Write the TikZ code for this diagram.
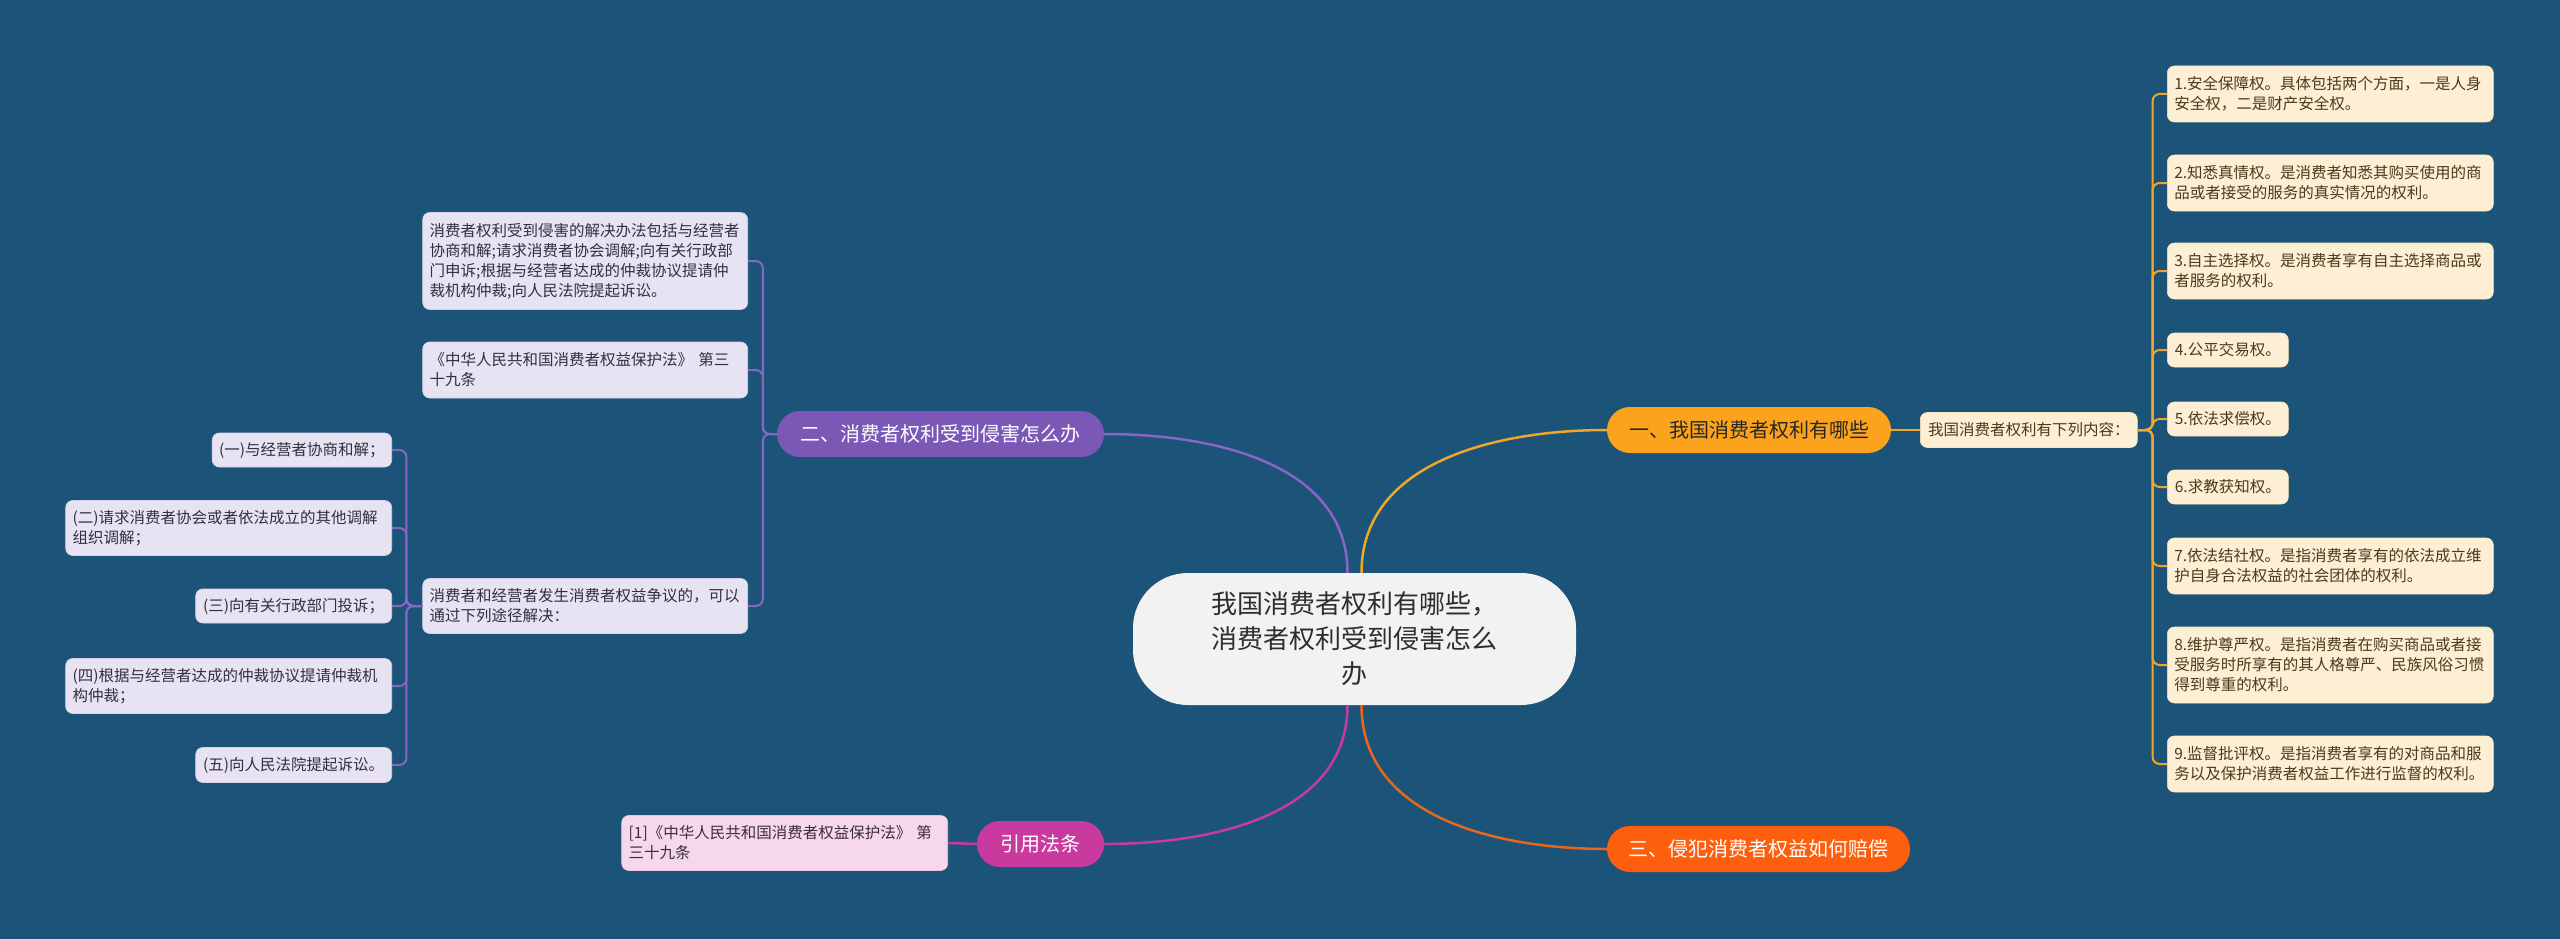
\documentclass[tikz,border=0pt]{standalone}
\usepackage{fontspec}
\setmainfont{Noto Sans CJK SC}
\definecolor{bg}{HTML}{1B5478}
\definecolor{rootfill}{HTML}{F2F2F2}
\definecolor{roottext}{HTML}{2E2E2E}
\definecolor{orangeP}{HTML}{FBA31D}
\definecolor{orangeL}{HTML}{EFA62A}
\definecolor{cream}{HTML}{FDEFD4}
\definecolor{creamtext}{HTML}{4A3A1E}
\definecolor{purpleP}{HTML}{7B58B6}
\definecolor{purpleL}{HTML}{8A64C6}
\definecolor{lav}{HTML}{E8E3F3}
\definecolor{lavtext}{HTML}{33303D}
\definecolor{redP}{HTML}{FD5F0E}
\definecolor{redL}{HTML}{E8671E}
\definecolor{magP}{HTML}{C93A9E}
\definecolor{magL}{HTML}{C83A9C}
\definecolor{pink}{HTML}{F6D8EC}
\definecolor{pinktext}{HTML}{3A2E36}
\begin{document}
\begin{tikzpicture}[x=1pt,y=1pt,
  rootbox/.style={align=center, minimum width=443, minimum height=132, rounded corners=55,
    fill=rootfill, text=roottext, font=\fontsize{26}{35}\selectfont, inner sep=0},
  pill/.style={minimum height=46, rounded corners=23, font=\fontsize{20}{24}\selectfont, inner sep=0},
  small/.style={font=\fontsize{15.5}{20}\selectfont, rounded corners=7, inner xsep=7, inner ysep=4, align=left, line width=0.6pt},
  itemO/.style={small, fill=cream, draw=cream!85!orangeP, text=creamtext},
  itemP/.style={small, fill=lav, draw=lav!85!purpleP, text=lavtext},
  itemM/.style={small, fill=pink, draw=pink!85!magP, text=pinktext},
  lnO/.style={draw=orangeL, line width=2pt, rounded corners=7},
  lnP/.style={draw=purpleL, line width=2pt, rounded corners=7},
  lnM/.style={draw=magL, line width=2.5pt},
  lnR/.style={draw=redL, line width=2.5pt},
]
\fill[bg] (0,0) rectangle (2560,-939);
\useasboundingbox (0,0) rectangle (2560,-939);

% root
\node[rootbox] (root) at (1354.5,-639) {我国消费者权利有哪些，\\消费者权利受到侵害怎么\\办};

% main branches
\node[pill, fill=orangeP, text=black!85, minimum width=284] (b1) at (1749,-430) {一、我国消费者权利有哪些};
\node[pill, fill=purpleP, text=white, minimum width=327] (b2) at (940.5,-434) {二、消费者权利受到侵害怎么办};
\node[pill, fill=redP, text=white, minimum width=303] (b3) at (1758.5,-849) {三、侵犯消费者权益如何赔偿};
\node[pill, fill=magP, text=white, minimum width=127] (b4) at (1040.5,-844) {引用法条};

% branch 1
\node[itemO, anchor=west, minimum width=217, minimum height=35] (m1) at (1920,-430) {我国消费者权利有下列内容：};
\node[itemO, anchor=west, text width=312, minimum height=56] (i1) at (2167,-94) {1.安全保障权。具体包括两个方面，一是人身\\安全权，二是财产安全权。};
\node[itemO, anchor=west, text width=312, minimum height=56] (i2) at (2167,-183) {2.知悉真情权。是消费者知悉其购买使用的商\\品或者接受的服务的真实情况的权利。};
\node[itemO, anchor=west, text width=312, minimum height=56] (i3) at (2167,-271) {3.自主选择权。是消费者享有自主选择商品或\\者服务的权利。};
\node[itemO, anchor=west, minimum width=121, minimum height=34] (i4) at (2167,-350) {4.公平交易权。};
\node[itemO, anchor=west, minimum width=121, minimum height=34] (i5) at (2167,-419) {5.依法求偿权。};
\node[itemO, anchor=west, minimum width=121, minimum height=34] (i6) at (2167,-487) {6.求教获知权。};
\node[itemO, anchor=west, text width=312, minimum height=56] (i7) at (2167,-566) {7.依法结社权。是指消费者享有的依法成立维\\护自身合法权益的社会团体的权利。};
\node[itemO, anchor=west, text width=312, minimum height=76] (i8) at (2167,-665) {8.维护尊严权。是指消费者在购买商品或者接\\受服务时所享有的其人格尊严、民族风俗习惯\\得到尊重的权利。};
\node[itemO, anchor=west, text width=312, minimum height=56] (i9) at (2167,-764) {9.监督批评权。是指消费者享有的对商品和服\\务以及保护消费者权益工作进行监督的权利。};

% branch 2
\node[itemP, anchor=east, text width=311, minimum height=97] (a) at (748,-261) {消费者权利受到侵害的解决办法包括与经营者\\协商和解;请求消费者协会调解;向有关行政部\\门申诉;根据与经营者达成的仲裁协议提请仲\\裁机构仲裁;向人民法院提起诉讼。};
\node[itemP, anchor=east, text width=311, minimum height=56] (b) at (748,-370) {《中华人民共和国消费者权益保护法》 第三\\十九条};
\node[itemP, anchor=east, text width=311, minimum height=55] (c) at (748,-606) {消费者和经营者发生消费者权益争议的，可以\\通过下列途径解决：};
\node[itemP, anchor=east, minimum width=179, minimum height=34] (s1) at (392,-450) {(一)与经营者协商和解；};
\node[itemP, anchor=east, text width=312, minimum height=55] (s2) at (392,-528) {(二)请求消费者协会或者依法成立的其他调解\\组织调解；};
\node[itemP, anchor=east, minimum width=196, minimum height=34] (s3) at (392,-606) {(三)向有关行政部门投诉；};
\node[itemP, anchor=east, text width=312, minimum height=55] (s4) at (392,-686) {(四)根据与经营者达成的仲裁协议提请仲裁机\\构仲裁；};
\node[itemP, anchor=east, minimum width=196, minimum height=35] (s5) at (392,-765) {(五)向人民法院提起诉讼。};

% branch 4
\node[itemM, anchor=east, text width=312, minimum height=55] (r1) at (948,-843) {[1]《中华人民共和国消费者权益保护法》 第\\三十九条};

% connectors from root
\draw[draw=orangeL, line width=2.5pt] ([xshift=7]root.north) to[out=90,in=180] (b1.west);
\draw[draw=purpleL, line width=2.5pt] ([xshift=-7]root.north) to[out=90,in=0] (b2.east);
\draw[lnR] ([xshift=7]root.south) to[out=-90,in=180] (b3.west);
\draw[lnM] ([xshift=-7]root.south) to[out=-90,in=0] (b4.east);

% branch 1 connectors
\draw[lnO] (b1.east) -- (m1.west);
\foreach \n in {i1,i2,i3,i4,i5,i6,i7,i8,i9}
  \draw[lnO] (m1.east) -- ++(15,0) |- (\n.west);

% branch 2 connectors
\foreach \n in {a,b,c}
  \draw[lnP] (b2.west) -- ++(-14,0) |- (\n.east);
\foreach \n in {s1,s2,s3,s4,s5}
  \draw[lnP] (c.west) -- ++(-16,0) |- (\n.east);

% branch 4 connector
\draw[lnM] (b4.west) -- (r1.east);
\end{tikzpicture}
\end{document}
